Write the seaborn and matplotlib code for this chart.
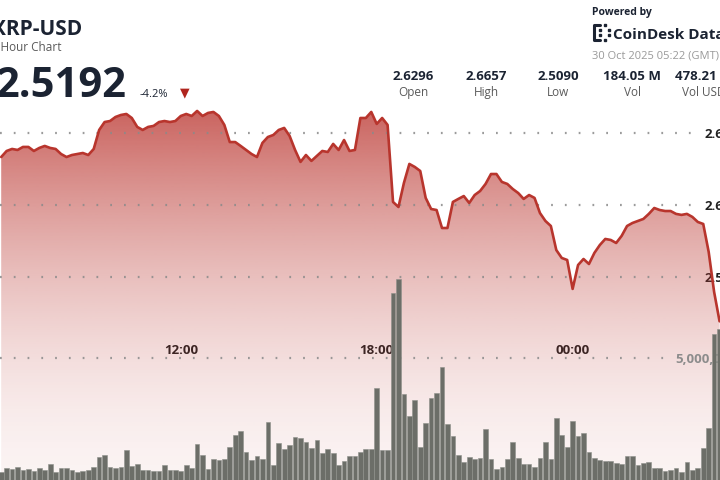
import numpy as np
import pandas as pd
import matplotlib.pyplot as plt
import seaborn as sns
from matplotlib.lines import Line2D

# XRP-USD, 10 minute slots (visible part of the 24h chart)
price = [
    2.6333, 2.6375, 2.6389, 2.6382, 2.6403, 2.6403, 2.6375, 2.6396, 2.6410, 2.6396,
    2.6389, 2.6354, 2.6333, 2.6347, 2.6354, 2.6361, 2.6347, 2.6389, 2.6521, 2.6576,
    2.6583, 2.6611, 2.6625, 2.6632, 2.6604, 2.6542, 2.6521, 2.6542, 2.6549, 2.6576,
    2.6583, 2.6576, 2.6583, 2.6618, 2.6632, 2.6618, 2.6653, 2.6618, 2.6639, 2.6646,
    2.6618, 2.6556, 2.6437, 2.6437, 2.6410, 2.6382, 2.6354, 2.6333, 2.6431, 2.6472,
    2.6486, 2.6521, 2.6535, 2.6479, 2.6382, 2.6299, 2.6347, 2.6306, 2.6340, 2.6375,
    2.6368, 2.6424, 2.6382, 2.6451, 2.6375, 2.6382, 2.6604, 2.6604, 2.6646, 2.6563,
    2.6604, 2.6556, 2.6021, 2.5986, 2.6153, 2.6285, 2.6264, 2.6236, 2.6049, 2.5972,
    2.5965, 2.5840, 2.5840, 2.6021, 2.6042, 2.6062, 2.6014, 2.6069, 2.6097, 2.6146,
    2.6215, 2.6215, 2.6160, 2.6146, 2.6111, 2.6083, 2.6042, 2.6069, 2.6049, 2.5944,
    2.5889, 2.5854, 2.5687, 2.5632, 2.5618, 2.5417, 2.5583, 2.5625, 2.5590, 2.5667,
    2.5722, 2.5764, 2.5757, 2.5736, 2.5785, 2.5854, 2.5875, 2.5889, 2.5903, 2.5938,
    2.5979, 2.5965, 2.5958, 2.5958, 2.5938, 2.5931, 2.5938, 2.5917, 2.5882, 2.5868,
    2.5674, 2.5396, 2.5192,
]

# volume per slot, millions
volume_m = [
    0.34, 0.50, 0.45, 0.53, 0.41, 0.45, 0.38, 0.49, 0.42, 0.67,
    0.32, 0.49, 0.49, 0.40, 0.33, 0.37, 0.41, 0.53, 0.95, 1.01,
    0.53, 0.50, 0.53, 1.22, 0.57, 0.66, 0.41, 0.41, 0.37, 0.38,
    0.63, 0.42, 0.41,
    0.38, 0.61, 0.48, 1.46, 1.01, 0.45, 0.87, 0.82, 0.87, 1.35,
    1.84, 2.01, 1.15, 0.82, 0.98, 0.85, 2.38, 0.60, 1.53, 1.26,
    1.42, 1.77, 1.73, 1.56, 1.32, 1.64, 1.09, 1.26, 1.09, 0.60,
    0.78, 0.98, 0.98, 1.16,
    1.26, 1.26, 3.76, 1.23, 1.23, 7.68, 8.23, 3.52, 2.62, 3.28,
    1.36, 2.35, 3.35, 3.58, 4.62, 2.28, 1.80, 1.02, 0.75, 0.95,
    0.85, 0.91, 2.08, 0.86, 0.45, 0.52, 0.86, 1.57, 0.91, 0.66,
    0.66, 0.52, 0.89,
    1.57, 0.86, 2.53, 1.84, 1.36, 2.43, 1.80, 1.91, 1.16, 0.89,
    0.82, 0.79, 0.78, 0.68, 0.66, 1.00, 1.00, 0.61, 0.68, 0.75,
    0.48, 0.48, 0.37, 0.41, 0.50, 0.32, 0.75, 0.41, 0.50, 1.30,
    2.12, 5.97, 6.18,
]

time_ticks = [33, 69, 105]
time_labels = ["12:00", "18:00", "00:00"]
price_ticks = [2.55, 2.60, 2.65]
price_labels = ["2.55", "2.60", "2.65"]
vol_ticks = [5]
vol_labels = ["5,000,000"]

stat_values = ["2.6296", "2.6657", "2.5090", "184.05 M", "478.21 M"]
stat_names = ["Open", "High", "Low", "Vol", "Vol USD"]

df = pd.DataFrame({"slot": np.arange(len(price)), "price": price, "volume": volume_m})

sns.set_theme(style="white")
plt.rcParams["font.family"] = ["Open Sans", "DejaVu Sans"]

NAVY = "#1b2332"
GREY = "#5a5a5a"
XMIN, XMAX = -0.22, 132.08
PLO, PHI = 2.409, 2.6729
DOTS = dict(color="#8a8a8a", linestyle=(0, (0.8, 5.4)), linewidth=1.6, alpha=0.85)

fig = plt.figure(figsize=(7.2, 4.8), dpi=100)
ax = fig.add_axes([0, 0, 1, 380 / 480])
ax.patch.set_alpha(0)

# gradient fill under the price line
t = np.linspace(0, 1, 256)
grad = np.zeros((256, 1, 4))
grad[..., 0] = 186 / 255
grad[..., 1] = 52 / 255
grad[..., 2] = 46 / 255
grad[..., 3] = (0.06 + 0.74 * t ** 1.7)[:, None]
poly = ax.fill_between(df["slot"], df["price"], PLO, color="none", linewidth=0)
img = ax.imshow(grad, extent=[XMIN, XMAX, PLO, PHI], origin="lower",
                aspect="auto", zorder=1, interpolation="bilinear")
img.set_clip_path(poly.get_paths()[0], transform=ax.transData)

for v in price_ticks:
    ax.axhline(v, 0, 0.965, zorder=2, **DOTS)

sns.lineplot(data=df, x="slot", y="price", ax=ax, color="#b8352d",
             linewidth=1.9, zorder=3)

# volume bars on a twin axis, drawn over the fill
axv = ax.twinx()
axv.patch.set_visible(False)
axv.axhline(vol_ticks[0], 0, 0.93, zorder=1, **DOTS)
sns.barplot(data=df, x="slot", y="volume", ax=axv, native_scale=True,
            color="#6c6e68", saturation=1, width=0.86,
            edgecolor="#8e908a", linewidth=0.4, zorder=2)

ax.set_xlim(XMIN, XMAX)
ax.set_ylim(PLO, PHI)
axv.set_xlim(XMIN, XMAX)
axv.set_ylim(0, 5 * 380 / 122)

ax.yaxis.tick_right()
ax.set_yticks(price_ticks, price_labels)
ax.tick_params(axis="y", length=0, pad=-10.8, labelsize=9.5, labelcolor="#222222")
axv.set_yticks(vol_ticks, vol_labels)
axv.tick_params(axis="y", length=0, pad=-32.4, labelsize=9.5, labelcolor="#8c8c8c")
ax.set_xticks(time_ticks, time_labels)
ax.tick_params(axis="x", length=0, pad=-98, labelsize=9.5, labelcolor="#222222")
for lbl in ax.get_xticklabels() + ax.get_yticklabels() + axv.get_yticklabels():
    lbl.set_fontweight("bold")

for a in (ax, axv):
    a.set_xlabel("")
    a.set_ylabel("")
    a.grid(False)
    for s in a.spines.values():
        s.set_visible(False)


def fx(px):
    return px / 720


def fy(py):
    return 1 - py / 480


# header
fig.text(fx(82), fy(35), "XRP-USD", ha="right", va="baseline",
         fontsize=15, fontweight="bold", color=NAVY)
fig.text(fx(62), fy(51), "24 Hour Chart", ha="right", va="baseline",
         fontsize=8.5, color=GREY)
fig.text(fx(126), fy(97), "2.5192", ha="right", va="baseline",
         fontsize=30, fontweight="bold", color=NAVY)
fig.text(fx(140), fy(97), "-4.2%", ha="left", va="baseline",
         fontsize=8, color=NAVY)
fig.text(fx(185), fy(93), "▼", ha="center", va="center",
         fontsize=9, color="#b0251e")

stat_x = [413, 486, 558, 632, 704]
for cx, val, name in zip(stat_x, stat_values, stat_names):
    fig.text(fx(cx), fy(80), val, ha="center", va="baseline",
             fontsize=9.5, fontweight="bold", color=NAVY)
    fig.text(fx(cx), fy(96), name, ha="center", va="baseline",
             fontsize=8.5, color=GREY)

fig.text(fx(592), fy(15), "Powered by", ha="left", va="baseline",
         fontsize=7.5, fontweight="bold", color=NAVY)
fig.text(fx(613), fy(39), "CoinDesk Data", ha="left", va="baseline",
         fontsize=11, fontweight="bold", color=NAVY)
fig.text(fx(592), fy(59), "30 Oct 2025 05:22 (GMT)", ha="left", va="baseline",
         fontsize=8, color="#9a9a9a")

# little logo mark
fig.add_artist(Line2D([fx(600), fx(594), fx(594), fx(600)],
                      [fy(25), fy(25), fy(40), fy(40)], color=NAVY, linewidth=2.2))
fig.add_artist(Line2D([fx(600), fx(600), fx(605), fx(609), fx(605), fx(609)],
                      [fy(30), fy(35), fy(25), fy(30), fy(40), fy(35)],
                      color=NAVY, linestyle="none", marker="s", markersize=1.8))

fig.savefig("out.png", dpi=100)
